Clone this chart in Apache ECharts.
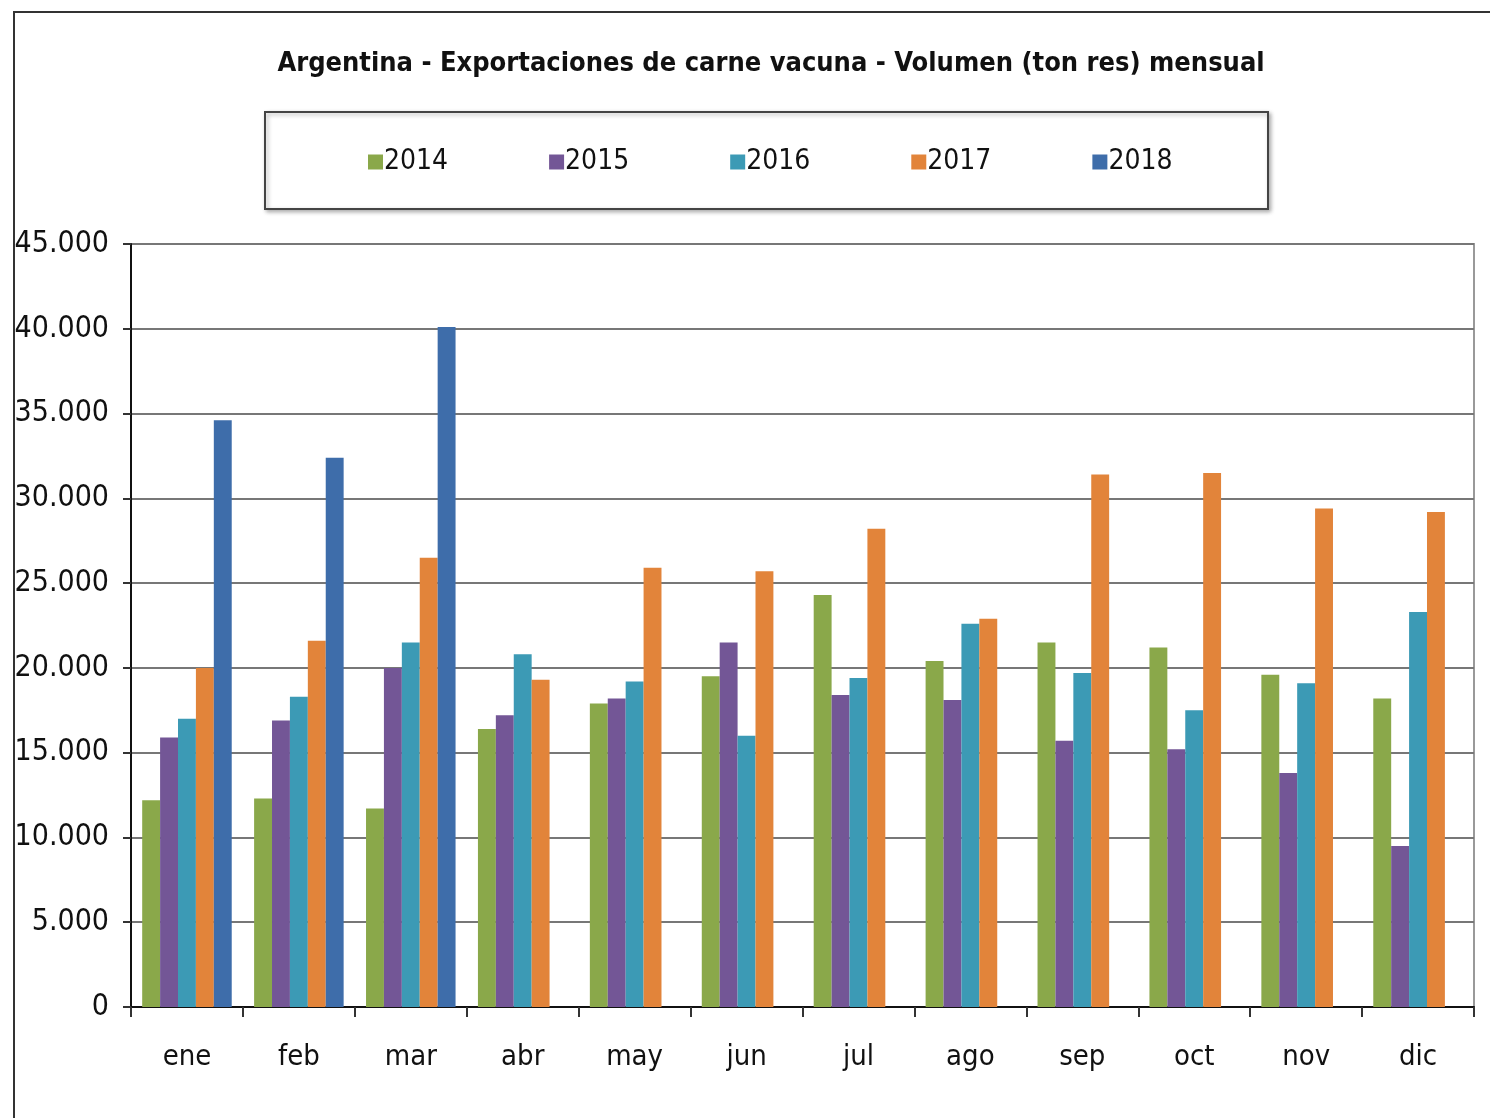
<!DOCTYPE html>
<html>
<head>
<meta charset="utf-8">
<script src="https://cdn.jsdelivr.net/npm/echarts@6/dist/echarts.min.js"></script>
<style>
html,body{margin:0;padding:0;background:#fff;}
#c{width:1490px;height:1118px;}
</style>
</head>
<body>
<div id="c"></div>
<script>
var titleText = 'Argentina - Exportaciones de carne vacuna - Volumen (ton res) mensual';
var categories = ['ene','feb','mar','abr','may','jun','jul','ago','sep','oct','nov','dic'];
var seriesNames = ['2014','2015','2016','2017','2018'];
var y2014 = [12200,12300,11700,16400,17900,19500,24300,20400,21500,21200,19600,18200];
var y2015 = [15900,16900,20000,17200,18200,21500,18400,18100,15700,15200,13800,9500];
var y2016 = [17000,18300,21500,20800,19200,16000,19400,22600,19700,17500,19100,23300];
var y2017 = [20000,21600,26500,19300,25900,25700,28200,22900,31400,31500,29400,29200];
var y2018 = [34600,32400,40100,null,null,null,null,null,null,null,null,null];
var yTicks = [0,5000,10000,15000,20000,25000,30000,35000,40000,45000];

var colors = ['#8AA84A','#735696','#3C9AB5','#E2843A','#3E6DAA'];
var font = '"Liberation Sans Narrow","Arial Narrow","DejaVu Sans Condensed",sans-serif';
var allData = [y2014,y2015,y2016,y2017,y2018];

var chart = echarts.init(document.getElementById('c'), null, {renderer:'canvas'});
chart.setOption({
  backgroundColor:'#fff',
  animation:false,
  color: colors,
  title:{
    text: titleText,
    left: 766, top: 45, textAlign:'center',
    textStyle:{fontFamily:font, fontSize:27, fontWeight:'bold', color:'#111'}
  },
  graphic:[
    {type:'rect', shape:{x:14,y:12,width:1500,height:1200}, style:{fill:'none',stroke:'#333',lineWidth:2}, z:-1},
    {type:'rect', shape:{x:265,y:112,width:1003,height:97}, style:{fill:'#fff',stroke:'#444',lineWidth:2, shadowBlur:4, shadowColor:'rgba(0,0,0,0.3)', shadowOffsetX:2, shadowOffsetY:2}, z:-1}
  ],
  legend:{
    data: seriesNames,
    left: 363, top: 143,
    itemWidth:15, itemHeight:15, itemGap:101,
    icon:'rect',
    textStyle:{fontFamily:font, fontSize:28, color:'#111', padding:[0,0,0,-4]}
  },
  grid:{left:131, right:16, top:244, bottom:111, show:true, borderColor:'#999', borderWidth:2},
  xAxis:{
    type:'category', data:categories,
    axisLine:{lineStyle:{color:'#111', width:2}},
    axisTick:{show:true, length:10, lineStyle:{color:'#333', width:2}},
    axisLabel:{fontFamily:font, fontSize:29, color:'#111', margin:36}
  },
  yAxis:{
    type:'value', min:0, max:45000, interval:5000,
    axisLine:{show:true, lineStyle:{color:'#111', width:2}},
    axisTick:{show:true, length:8, lineStyle:{color:'#333', width:2}},
    splitLine:{lineStyle:{color:'#777', width:2}},
    axisLabel:{fontFamily:font, fontSize:30, color:'#111', margin:22,
      formatter:function(v){return String(v).replace(/\B(?=(\d{3})+(?!\d))/g,'.');}}
  },
  series: seriesNames.map(function(n,i){
    return {name:n, type:'bar', data:allData[i], barGap:'0%', barCategoryGap:'20%'};
  })
});
</script>
</body>
</html>
